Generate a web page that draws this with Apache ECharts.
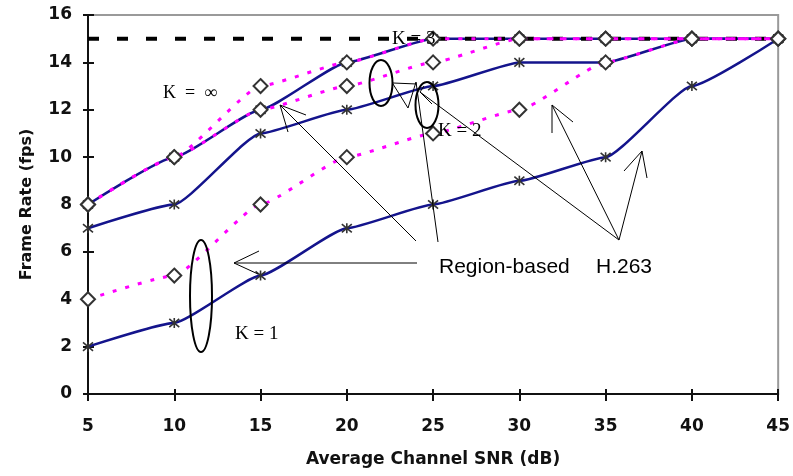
<!DOCTYPE html>
<html>
<head>
<meta charset="utf-8" />
<title>Frame rate vs SNR</title>
<script src="https://cdn.jsdelivr.net/npm/echarts@6/dist/echarts.min.js"></script>
<style>
  html, body { margin: 0; padding: 0; width: 100%; height: 100%; background: #fff; }
  #chart { width: 793px; height: 476px; }
</style>
</head>
<body>
<div id="chart"></div>
<script>
// x axis: average channel SNR (dB)
var snr = [5, 10, 15, 20, 25, 30, 35, 40, 45];
var yTicks = [0, 2, 4, 6, 8, 10, 12, 14, 16];

// region-based (magenta dotted, diamonds)
var regionInf = [8, 10, 13, 14, 15, 15, 15, 15, 15];
var region2 = [8, 10, 12, 13, 14, 15, 15, 15, 15];
var region1 = [4, 5, 8, 10, 11, 12, 14, 15, 15];

// H.263 (blue solid, asterisks)
var h263Inf = [8, 10, 12, 14, 15, 15, 15, 15, 15];
var h263_2 = [7, 8, 11, 12, 13, 14, 14, 15, 15];
var h263_1 = [2, 3, 5, 7, 8, 9, 10, 13, 15];

// source frame rate ceiling
var maxRate = [15, 15, 15, 15, 15, 15, 15, 15, 15];

function pairs(ys) {
  return snr.map(function (x, i) { return [x, ys[i]]; });
}

var chart = echarts.init(document.getElementById('chart'));

var star = 'path://M0,0L10,10M10,0L0,10M5,-1L5,11';
var font = 'DejaVu Sans';

function blue(name, ys) {
  return {
    name: name, type: 'line', data: pairs(ys), z: 2,
    smooth: 0.15, smoothMonotone: 'x',
    lineStyle: { color: '#14148c', width: 2.5 },
    symbol: star, symbolSize: 10, showAllSymbol: true,
    itemStyle: { color: 'transparent', borderColor: '#333', borderWidth: 1.6 }
  };
}
function pink(name, ys) {
  return {
    name: name, type: 'line', data: pairs(ys), z: 4,
    smooth: 0.15, smoothMonotone: 'x',
    lineStyle: { color: '#ff00ff', width: 3, type: [4, 9] },
    symbol: 'diamond', symbolSize: 14, showAllSymbol: true,
    itemStyle: { color: '#fff', borderColor: '#333', borderWidth: 2 }
  };
}

function line(pts) {
  return { type: 'polyline', z: 100, shape: { points: pts },
    style: { stroke: '#000', lineWidth: 1, fill: null } };
}
function oval(cx, cy, rx, ry) {
  return { type: 'ellipse', z: 100, shape: { cx: cx, cy: cy, rx: rx, ry: ry },
    style: { stroke: '#000', lineWidth: 2, fill: null } };
}
function label(x, y, text, family, size) {
  return { type: 'text', z: 101, x: x, y: y,
    style: { text: text, fill: '#000', font: size + 'px "' + family + '"', verticalAlign: 'middle' } };
}

var option = {
  animation: false,
  grid: { left: 88, right: 14, top: 15, bottom: 82, show: true, borderColor: '#9a9a9a', borderWidth: 2 },
  xAxis: [{
    type: 'value', min: 5, max: 45, interval: 5,
    name: 'Average Channel SNR (dB)', nameLocation: 'middle', nameGap: 57,
    nameTextStyle: { fontFamily: font, fontSize: 17, fontWeight: 'bold', color: '#111' },
    axisLine: { lineStyle: { color: '#111', width: 2 } },
    axisTick: { length: 7, lineStyle: { color: '#111', width: 2 } },
    axisLabel: { fontFamily: font, fontSize: 17, fontWeight: 'bold', color: '#111', margin: 24 },
    splitLine: { show: false }
  }, {
    type: 'value', min: 5, max: 45, interval: 5, position: 'bottom',
    axisLine: { show: false },
    axisTick: { inside: true, length: 5, lineStyle: { color: '#111', width: 2 } },
    axisLabel: { show: false }, splitLine: { show: false }
  }],
  yAxis: [{
    type: 'value', min: yTicks[0], max: yTicks[yTicks.length - 1], interval: 2,
    name: 'Frame Rate (fps)', nameLocation: 'middle', nameGap: 53,
    nameTextStyle: { fontFamily: font, fontSize: 16, fontWeight: 'bold', color: '#111' },
    axisLine: { show: true, lineStyle: { color: '#111', width: 2 } },
    axisTick: { show: true, length: 5, lineStyle: { color: '#111', width: 2 } },
    axisLabel: { fontFamily: font, fontSize: 17, fontWeight: 'bold', color: '#111', margin: 16 },
    splitLine: { show: false }
  }, {
    type: 'value', min: 0, max: 16, interval: 2, position: 'left',
    axisLine: { show: false },
    axisTick: { show: true, inside: true, length: 6, lineStyle: { color: '#111', width: 2 } },
    axisLabel: { show: false }, splitLine: { show: false }
  }],
  series: [
    blue('H.263 K=inf', h263Inf),
    blue('H.263 K=2', h263_2),
    blue('H.263 K=1', h263_1),
    {
      name: 'max', type: 'line', data: pairs(maxRate), z: 3, symbol: 'none',
      lineStyle: { color: '#000', width: 4, type: [11, 18] }
    },
    pink('Region K=inf', regionInf),
    pink('Region K=2', region2),
    pink('Region K=1', region1)
  ],
  graphic: [
    oval(201, 296, 11, 56),
    oval(381, 83, 11.5, 23),
    oval(427, 105, 11.5, 23),
    line([[417, 263], [234, 263]]),
    line([[259, 251], [234, 263], [258, 274]]),
    line([[416, 241], [280, 105]]),
    line([[306, 115], [280, 105], [288, 132]]),
    line([[438, 242], [416, 82]]),
    line([[393, 83], [417, 84]]),
    line([[393, 84], [408, 108], [416, 82]]),
    line([[619, 240], [420, 92]]),
    line([[432, 104], [420, 92], [424, 86]]),
    line([[619, 240], [552, 105]]),
    line([[552, 133], [552, 105], [573, 122]]),
    line([[619, 240], [642, 151]]),
    line([[624, 171], [642, 151], [647, 178]]),
    label(439, 267, 'Region-based', 'Liberation Sans', 21),
    label(596, 267, 'H.263', 'Liberation Sans', 21),
    label(163, 93, 'K  =  \u221e', 'Liberation Serif', 18),
    label(392, 39, 'K = 3', 'Liberation Serif', 19),
    label(438, 131, 'K = 2', 'Liberation Serif', 19),
    label(235, 334, 'K = 1', 'Liberation Serif', 19)
  ]
};

chart.setOption(option);
</script>
</body>
</html>
